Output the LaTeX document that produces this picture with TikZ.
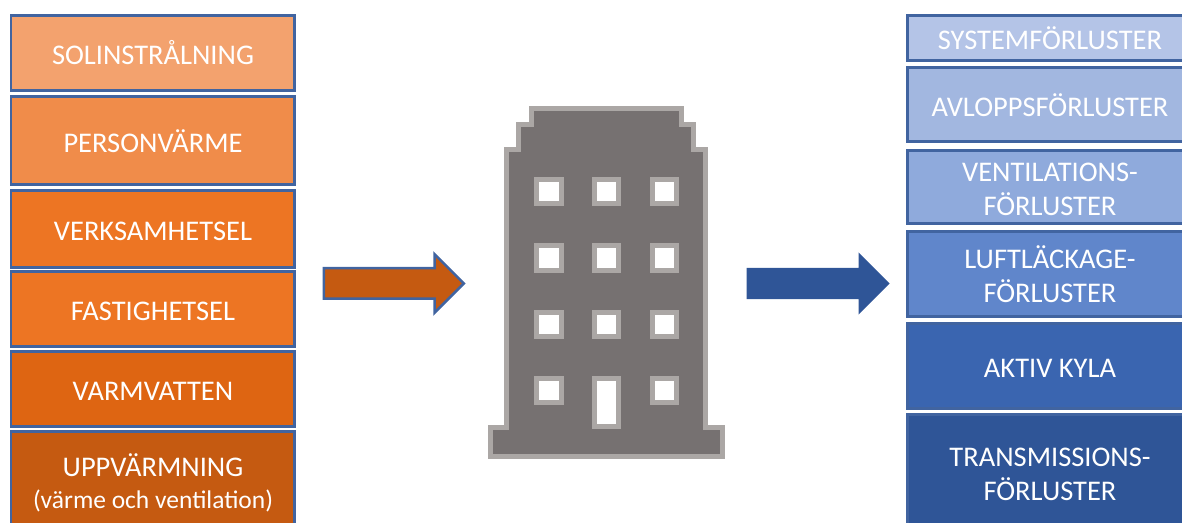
\documentclass[tikz,border=0pt]{standalone}
\usepackage{fontspec}
\setmainfont{Carlito}
\usetikzlibrary{shapes.arrows}
\definecolor{edgeBlue}{RGB}{65, 100, 160}
\definecolor{gainA}{RGB}{243, 162, 110}
\definecolor{gainB}{RGB}{240, 140, 74}
\definecolor{gainC}{RGB}{237, 117, 35}
\definecolor{gainD}{RGB}{222, 101, 18}
\definecolor{gainE}{RGB}{197, 90, 17}
\definecolor{lossA}{RGB}{180, 196, 231}
\definecolor{lossB}{RGB}{162, 183, 224}
\definecolor{lossC}{RGB}{143, 170, 220}
\definecolor{lossD}{RGB}{96, 134, 203}
\definecolor{lossE}{RGB}{58, 101, 176}
\definecolor{lossF}{RGB}{47, 85, 151}
\definecolor{wallGray}{RGB}{118, 113, 113}
\definecolor{rimGray}{RGB}{171, 167, 165}

\begin{document}
\begin{tikzpicture}[
    labelfont/.style={font=\fontsize{8.1}{9.65}\selectfont},
    sidebox/.style={draw=edgeBlue, line width=0.03cm, minimum width=2.84cm, inner sep=0pt,
      text=white, align=center, labelfont},
    oneline/.style={sidebox, text height=0.226cm, text depth=0pt},
    flowarrow/.style={single arrow, single arrow head extend=0.155cm, single arrow head indent=0pt,
      minimum height=1.43cm, inner xsep=0pt, inner ysep=0.15cm, anchor=west},
    rim/.style={draw=rimGray, line width=0.05cm, miter limit=10}
  ]
  \useasboundingbox (0,0) rectangle (11.82,5.23);

  % Heat gains
  \node[oneline, fill=gainA, minimum height=0.75cm] (solar) at (1.53,4.695) {SOLINSTRÅLNING};
  \node[oneline, fill=gainB, minimum height=0.88cm] (people) at (1.53,3.82) {PERSONVÄRME};
  \node[oneline, fill=gainC, minimum height=0.77cm] (business) at (1.53,2.935) {VERKSAMHETSEL};
  \node[oneline, fill=gainC, minimum height=0.75cm] (property) at (1.53,2.135) {FASTIGHETSEL};
  \node[oneline, fill=gainD, minimum height=0.75cm] (hotwater) at (1.53,1.335) {VARMVATTEN};
  \node[sidebox, fill=gainE, minimum height=1.02cm] (heating) at (1.53,0.40)
    {UPPVÄRMNING\\[-0.6pt]{\fontsize{7.25}{8}\selectfont (värme och ventilation)}};

  % Heat losses
  \node[oneline, fill=lossA, minimum height=0.45cm] (system) at (10.5,4.845) {SYSTEMFÖRLUSTER};
  \node[oneline, fill=lossB, minimum height=0.74cm] (sewage) at (10.5,4.18) {AVLOPPSFÖRLUSTER};
  \node[sidebox, fill=lossC, minimum height=0.73cm] (vent) at (10.5,3.355)
    {\rule{0pt}{0.224cm}VENTILATIONS-\\FÖRLUSTER};
  \node[sidebox, fill=lossD, minimum height=0.85cm] (leak) at (10.5,2.485) {LUFTLÄCKAGE-\\FÖRLUSTER};
  \node[oneline, fill=lossE, minimum height=0.85cm] (cooling) at (10.5,1.565) {AKTIV KYLA};
  \node[sidebox, fill=lossF, minimum height=1.19cm] (trans) at (10.5,0.485) {TRANSMISSIONS-\\FÖRLUSTER};

  % Arrows
  \node[flowarrow, fill=gainE, draw=edgeBlue, line width=0.025cm, minimum height=1.40cm,
    inner ysep=0.14cm, single arrow head extend=0.14cm] (inflow) at (3.225,2.395) {};
  \node[flowarrow, fill=lossF] (outflow) at (7.46,2.395) {};

  % Building
  \draw[rim, fill=wallGray] (5.32,4.145) -- (6.82,4.145) -- (6.82,3.98) -- (6.94,3.98) -- (6.94,3.73)
    -- (7.06,3.73) -- (7.06,0.955) -- (7.23,0.955) -- (7.23,0.66) -- (4.905,0.66) -- (4.905,0.955)
    -- (5.07,0.955) -- (5.07,3.73) -- (5.19,3.73) -- (5.19,3.98) -- (5.32,3.98) -- cycle;
  \foreach \px in {5.49, 6.067, 6.645} {
    \foreach \py in {3.315, 2.65, 1.985} {
      \draw[rim, fill=white] (\px-0.122,\py-0.122) rectangle (\px+0.122,\py+0.122);
    }
  }
  \draw[rim, fill=white] (5.368,1.203) rectangle (5.612,1.447);
  \draw[rim, fill=white] (6.523,1.203) rectangle (6.767,1.447);
  \draw[rim, fill=white] (5.945,0.96) rectangle (6.189,1.447);
\end{tikzpicture}
\end{document}
